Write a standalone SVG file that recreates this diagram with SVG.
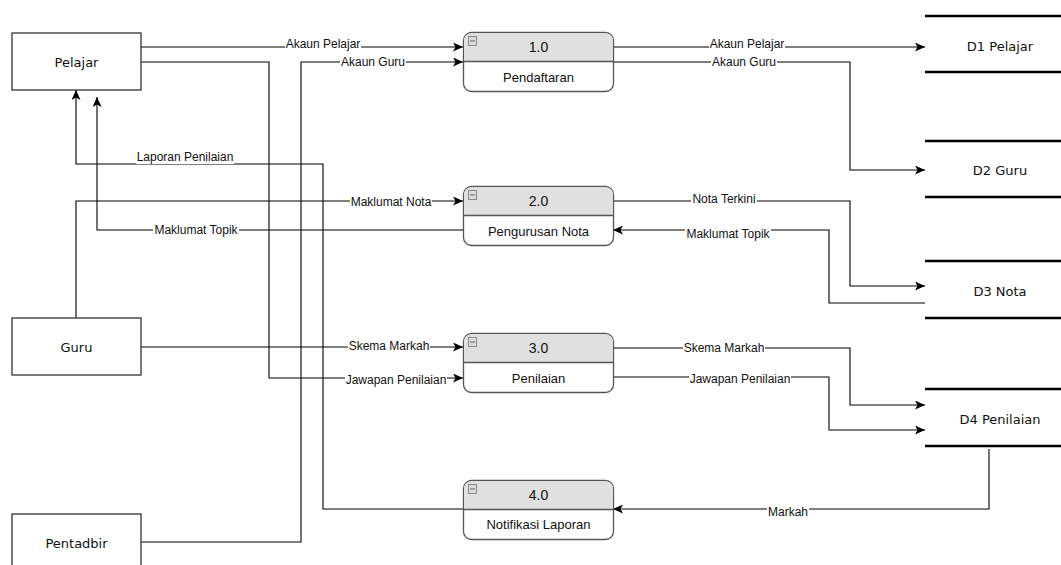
<svg xmlns="http://www.w3.org/2000/svg" width="1061" height="565" viewBox="0 0 1061 565">
<style>
.ent{fill:#fff;stroke:#333;stroke-width:1.3}
.etx{font-family:"DejaVu Sans",sans-serif;font-size:13px;fill:#111;text-anchor:middle;dominant-baseline:central}
.pbox{fill:#fff;stroke:#555;stroke-width:1.3}
.phd{fill:#e0e0e0;stroke:none}
.pdiv{stroke:#555;stroke-width:1.3}
.pnum{font-family:"Liberation Sans",Arial,sans-serif;font-size:14px;fill:#111;text-anchor:middle;dominant-baseline:central}
.pnm{font-family:"Liberation Sans",Arial,sans-serif;font-size:13px;fill:#111;text-anchor:middle;dominant-baseline:central}
.ico{fill:#dcdcdc;stroke:#8a8a8a;stroke-width:1}
.icm{stroke:#777;stroke-width:1.2}
.ds{stroke:#000;stroke-width:2.5}
.edge{fill:none;stroke:#000;stroke-width:1.1;marker-end:url(#arr)}
.lbg{fill:#fff}
.lbl{font-family:"Liberation Sans",Arial,sans-serif;font-size:12px;fill:#111;text-anchor:middle;dominant-baseline:central}
</style>
<defs>
<marker id="arr" markerUnits="userSpaceOnUse" markerWidth="11" markerHeight="9" refX="10" refY="4.5" orient="auto">
<path d="M0,0 L10,4.5 L0,9 L2.5,4.5 Z" fill="#000"/>
</marker>
</defs>
<rect width="1061" height="565" fill="#fff"/>

<g id="connectors">
<path class="edge" d="M141,47 H463"/>
<path class="edge" d="M141,62 H269 V378 H463"/>
<path class="edge" d="M141,542 H301 V62 H463"/>
<path class="edge" d="M463,509 H323 V164 H76 V90"/>
<path class="edge" d="M76,318 V201 H463"/>
<path class="edge" d="M463,230 H97 V97"/>
<path class="edge" d="M141,347 H463"/>
<path class="edge" d="M613,47 H925"/>
<path class="edge" d="M613,62 H850 V170 H925"/>
<path class="edge" d="M613,201 H850 V286 H925"/>
<path class="edge" d="M925,303 H829 V230 H613"/>
<path class="edge" d="M613,348 H850 V405 H925"/>
<path class="edge" d="M613,377 H829 V430 H925"/>
<path class="edge" d="M989,449 V509 H613"/>
<g id="edge-labels">
<rect class="lbg" x="285" y="38" width="76" height="13"/><text class="lbl" x="323" y="44">Akaun Pelajar</text>
<rect class="lbg" x="345" y="373" width="102" height="13"/><text class="lbl" x="396" y="379.5">Jawapan Penilaian</text>
<rect class="lbg" x="340" y="56" width="66" height="13"/><text class="lbl" x="373" y="62">Akaun Guru</text>
<rect class="lbg" x="136" y="151" width="98" height="13"/><text class="lbl" x="185" y="157">Laporan Penilaian</text>
<rect class="lbg" x="350" y="196" width="82" height="13"/><text class="lbl" x="391" y="202">Maklumat Nota</text>
<rect class="lbg" x="153" y="224" width="86" height="13"/><text class="lbl" x="196" y="230">Maklumat Topik</text>
<rect class="lbg" x="348" y="340" width="82" height="13"/><text class="lbl" x="389" y="346">Skema Markah</text>
<rect class="lbg" x="709" y="38" width="76" height="13"/><text class="lbl" x="747" y="44">Akaun Pelajar</text>
<rect class="lbg" x="711" y="56" width="66" height="13"/><text class="lbl" x="744" y="62">Akaun Guru</text>
<rect class="lbg" x="691" y="193" width="66" height="13"/><text class="lbl" x="724" y="199">Nota Terkini</text>
<rect class="lbg" x="685" y="228" width="86" height="13"/><text class="lbl" x="728" y="234">Maklumat Topik</text>
<rect class="lbg" x="683" y="341" width="82" height="13"/><text class="lbl" x="724" y="347.5">Skema Markah</text>
<rect class="lbg" x="689" y="373" width="102" height="13"/><text class="lbl" x="740" y="379">Jawapan Penilaian</text>
<rect class="lbg" x="767" y="505" width="42" height="13"/><text class="lbl" x="788" y="511.5">Markah</text>
</g>
</g>

<g id="pelajar"><rect class="ent" x="12" y="33" width="129" height="57"/><text class="etx" x="76.5" y="62">Pelajar</text></g>
<g id="guru"><rect class="ent" x="12" y="318" width="129" height="57"/><text class="etx" x="76.5" y="347">Guru</text></g>
<g id="pentadbir"><rect class="ent" x="12" y="514" width="129" height="60"/><text class="etx" x="76.5" y="543">Pentadbir</text></g>

<g id="p1">
<rect class="pbox" x="463.5" y="32.5" width="150" height="59" rx="8"/>
<path class="phd" d="M464.2,61.5 V40.5 A7.3,7.3 0 0 1 471.5,33.2 H605.5 A7.3,7.3 0 0 1 612.8,40.5 V61.5 Z"/>
<line class="pdiv" x1="463.5" y1="61.5" x2="613.5" y2="61.5"/>
<rect class="ico" x="468.5" y="36.5" width="8" height="9"/><line class="icm" x1="470" y1="41" x2="475" y2="41"/>
<text class="pnum" x="538.5" y="47">1.0</text><text class="pnm" x="538.5" y="77">Pendaftaran</text>
</g>
<g id="p2">
<rect class="pbox" x="463.5" y="186.5" width="150" height="59" rx="8"/>
<path class="phd" d="M464.2,215.5 V194.5 A7.3,7.3 0 0 1 471.5,187.2 H605.5 A7.3,7.3 0 0 1 612.8,194.5 V215.5 Z"/>
<line class="pdiv" x1="463.5" y1="215.5" x2="613.5" y2="215.5"/>
<rect class="ico" x="468.5" y="190.5" width="8" height="9"/><line class="icm" x1="470" y1="195" x2="475" y2="195"/>
<text class="pnum" x="538.5" y="201">2.0</text><text class="pnm" x="538.5" y="231">Pengurusan Nota</text>
</g>
<g id="p3">
<rect class="pbox" x="463.5" y="333.5" width="150" height="59" rx="8"/>
<path class="phd" d="M464.2,362.5 V341.5 A7.3,7.3 0 0 1 471.5,334.2 H605.5 A7.3,7.3 0 0 1 612.8,341.5 V362.5 Z"/>
<line class="pdiv" x1="463.5" y1="362.5" x2="613.5" y2="362.5"/>
<rect class="ico" x="468.5" y="337.5" width="8" height="9"/><line class="icm" x1="470" y1="342" x2="475" y2="342"/>
<text class="pnum" x="538.5" y="348">3.0</text><text class="pnm" x="538.5" y="378">Penilaian</text>
</g>
<g id="p4">
<rect class="pbox" x="463.5" y="480.5" width="150" height="59" rx="8"/>
<path class="phd" d="M464.2,509.5 V488.5 A7.3,7.3 0 0 1 471.5,481.2 H605.5 A7.3,7.3 0 0 1 612.8,488.5 V509.5 Z"/>
<line class="pdiv" x1="463.5" y1="509.5" x2="613.5" y2="509.5"/>
<rect class="ico" x="468.5" y="484.5" width="8" height="9"/><line class="icm" x1="470" y1="489" x2="475" y2="489"/>
<text class="pnum" x="538.5" y="495">4.0</text><text class="pnm" x="538.5" y="524">Notifikasi Laporan</text>
</g>

<g id="d1"><line class="ds" x1="925" y1="16" x2="1061" y2="16"/><line class="ds" x1="925" y1="72" x2="1061" y2="72"/><text class="etx" x="1000" y="46">D1 Pelajar</text></g>
<g id="d2"><line class="ds" x1="925" y1="141" x2="1061" y2="141"/><line class="ds" x1="925" y1="197" x2="1061" y2="197"/><text class="etx" x="1000" y="170">D2 Guru</text></g>
<g id="d3"><line class="ds" x1="925" y1="261" x2="1061" y2="261"/><line class="ds" x1="925" y1="318" x2="1061" y2="318"/><text class="etx" x="1000" y="291">D3 Nota</text></g>
<g id="d4"><line class="ds" x1="925" y1="389" x2="1061" y2="389"/><line class="ds" x1="925" y1="446" x2="1061" y2="446"/><text class="etx" x="1000" y="419">D4 Penilaian</text></g>
</svg>
